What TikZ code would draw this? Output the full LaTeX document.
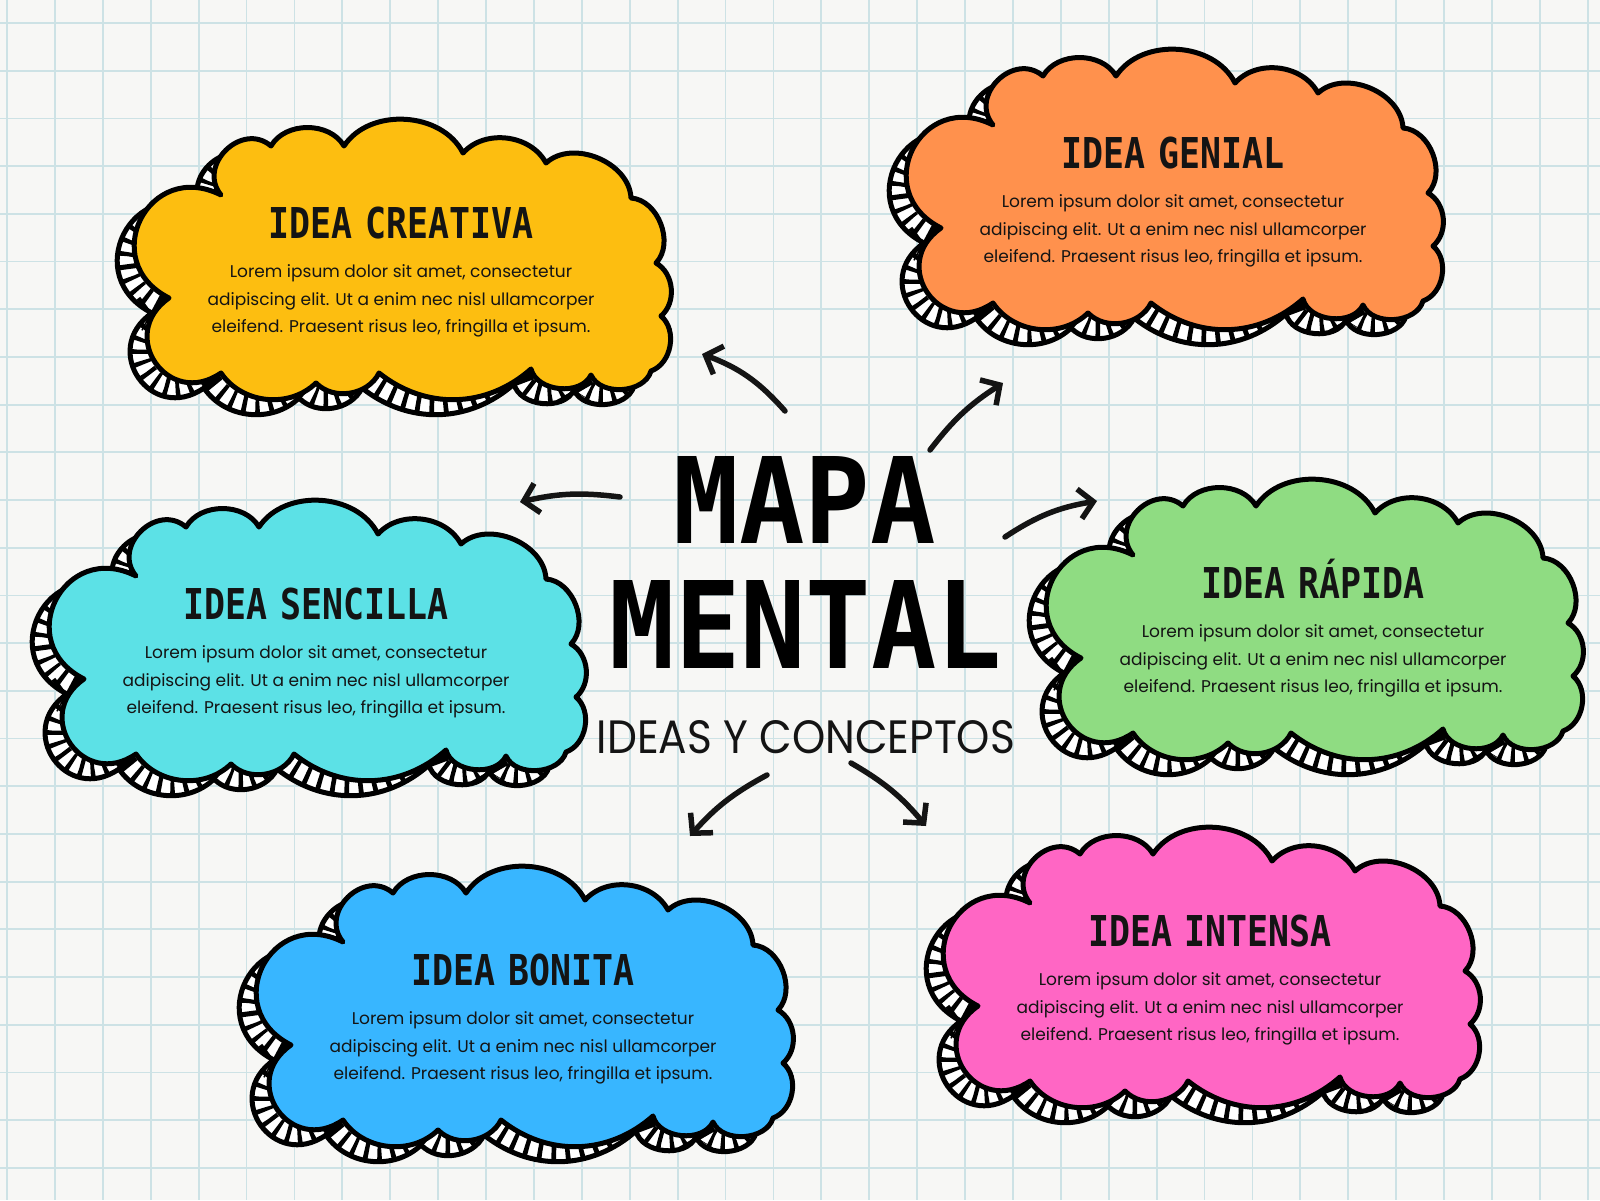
\documentclass[tikz,border=0pt]{standalone}
\usepackage{fontspec}
\usepackage{graphicx}
\setmainfont{Poppins}
\newfontfamily\headfont[WordSpace=0.6]{DejaVu Sans Mono}
\usetikzlibrary{arrows.meta}
\definecolor{paper}{HTML}{F7F7F5}
\definecolor{gridc}{HTML}{CDE2E5}
\definecolor{cyellow}{HTML}{FDBE10}
\definecolor{corange}{HTML}{FF914D}
\definecolor{ccyan}{HTML}{5CE1E6}
\definecolor{cgreen}{HTML}{8FDC82}
\definecolor{cblue}{HTML}{38B6FF}
\definecolor{cpink}{HTML}{FF66C4}
\definecolor{ink}{HTML}{141414}

\def\cloudpath{(-180,-106)
 to[bend left=85,looseness=1.4] (-130,-155)
 to[bend left=60] (-57,-155)
 to[bend left=60] (62,-148)
 to[bend left=55] (145,-138)
 to[bend left=65] (230,-103)
 to[bend left=65] (255,-38)
 to[bend left=55] (260,15)
 to[bend left=60] (250,70)
 to[bend left=70] (190,74)
 to[bend left=70] (130,68)
 to[bend left=40] (-22,72)
 to[bend left=55] (-85,82)
 to[bend left=50] (-180,72)
 to[bend left=90,looseness=1.8] (-232,-3)
 to[bend left=90,looseness=1.8] (-180,-106) -- cycle}

\newcommand\ideacloud[4]{%
 \begin{scope}[shift={(#2)}]
   \begin{scope}[shift={(-17,15)}]
     \begin{scope}
       \clip \cloudpath;
       \fill[white] \cloudpath;
       \draw[black, line width=40pt, dash pattern=on 5pt off 10pt] \cloudpath;
     \end{scope}
     \draw[cloudline] \cloudpath;
   \end{scope}
   \filldraw[cloudline, fill=#3] \cloudpath;
   \node[headstyle] (#1-title) at (0,-62.5) {\scalebox{0.82}[1]{#4}};
   \node[bodystyle] (#1-text) at (0,0) {Lorem ipsum dolor sit amet, consectetur\\adipiscing elit. Ut a enim nec nisl ullamcorper\\eleifend. Praesent risus leo, fringilla et ipsum.};
 \end{scope}}

\begin{document}
\begin{tikzpicture}[x=1pt,y=-1pt,
  gridline/.style={draw=gridc, line width=1.8pt},
  cloudline/.style={draw=black, line width=5pt, line join=round},
  headstyle/.style={anchor=base, inner sep=0pt, text=ink, font=\headfont\bfseries\fontsize{42.5}{42.5}\selectfont},
  bodystyle/.style={anchor=center, inner sep=0pt, align=center, text=ink, font=\fontsize{17}{27.5}\selectfont},
  arr/.style={draw=ink, line width=5.5pt, line cap=round, line join=round, -{Straight Barb[length=14pt,width=30pt]}}]
\useasboundingbox (0,0) rectangle (1600,1200);
\fill[paper] (0,0) rectangle (1600,1200);
\foreach \i in {0,...,33} \draw[gridline] ({7+47.9*\i},0) -- ({7+47.9*\i},1200);
\foreach \j in {0,...,24} \draw[gridline] (0,{23+47.7*\j}) -- (1600,{23+47.7*\j});

% title
\node[anchor=base, inner sep=0pt, text=black] (mapa) at (805,543) {\resizebox{262pt}{87pt}{\headfont\bfseries MAPA}};
\node[anchor=base, inner sep=0pt, text=black] (mental) at (806,668) {\resizebox{392pt}{88pt}{\headfont\bfseries MENTAL}};
\node[anchor=base, inner sep=0pt, text=ink] (sub) at (806,753) {\resizebox{418pt}{33pt}{IDEAS Y CONCEPTOS}};

% arrows
\coordinate (a1s) at (785,411); \coordinate (a1e) at (702,354);
\coordinate (a2s) at (930,450); \coordinate (a2e) at (1003,383);
\coordinate (a3s) at (620,497); \coordinate (a3e) at (520,502);
\coordinate (a4s) at (1005,537); \coordinate (a4e) at (1097,501);
\coordinate (a5s) at (767,775); \coordinate (a5e) at (690,836);
\coordinate (a6s) at (851,763); \coordinate (a6e) at (926,826);
\draw[arr] (a1s) to[bend right=14] (a1e);
\draw[arr] (a2s) to[bend left=10] (a2e);
\draw[arr] (a3s) to[bend right=10] (a3e);
\draw[arr] (a4s) to[bend left=12] (a4e);
\draw[arr] (a5s) to[bend right=10] (a5e);
\draw[arr] (a6s) to[bend left=10] (a6e);

% clouds
\ideacloud{creativa}{401,301}{cyellow}{IDEA CREATIVA}
\ideacloud{genial}{1173,231}{corange}{IDEA GENIAL}
\ideacloud{sencilla}{316,682}{ccyan}{IDEA SENCILLA}
\ideacloud{rapida}{1313,661}{cgreen}{IDEA RÁPIDA}
\ideacloud{bonita}{523,1048}{cblue}{IDEA BONITA}
\ideacloud{intensa}{1210,1009}{cpink}{IDEA INTENSA}
\end{tikzpicture}
\end{document}
